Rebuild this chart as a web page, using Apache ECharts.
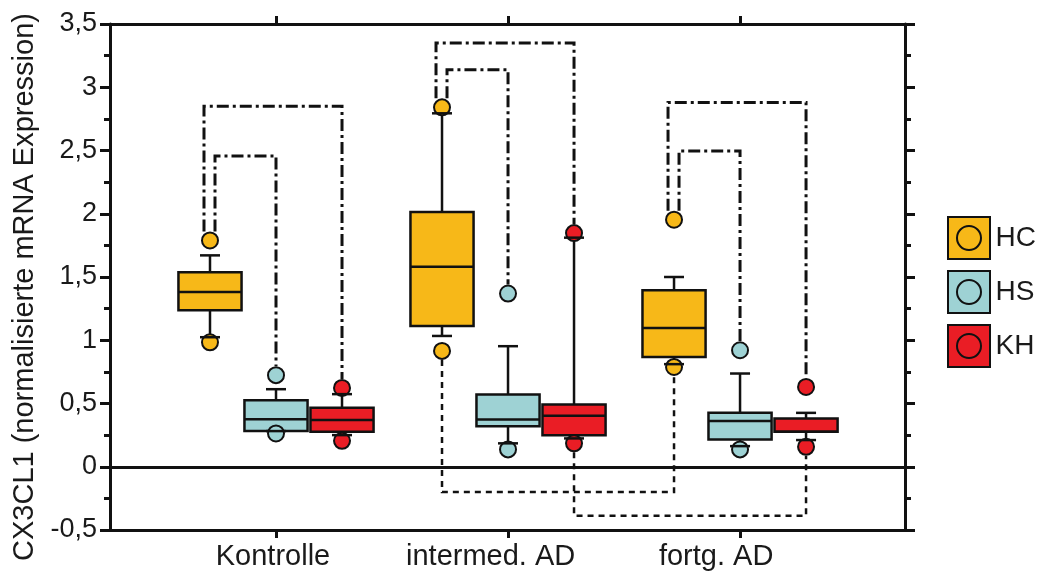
<!DOCTYPE html>
<html>
<head>
<meta charset="utf-8">
<script src="https://cdn.jsdelivr.net/npm/echarts@6/dist/echarts.min.js"></script>
<style>html,body{margin:0;padding:0;background:#fff}#c{width:1040px;height:579px}</style>
</head>
<body>
<div id="c"></div>
<script>
// ---- data ----
const categories = ['Kontrolle', 'intermed. AD', 'fortg. AD'];
const groupNames = ['HC', 'HS', 'KH'];
// per category: [lowCircle, lowCap, q1, median, q3, highCap, highCircle]
const hcValues = [
  [0.984, 1.024, 1.237, 1.381, 1.537, 1.671, 1.789],
  [0.916, 1.034, 1.113, 1.582, 2.013, 2.794, 2.841],
  [0.789, 0.811, 0.868, 1.097, 1.395, 1.500, 1.953]
];
const hsValues = [
  [0.263, 0.282, 0.282, 0.376, 0.526, 0.613, 0.724],
  [0.137, 0.185, 0.321, 0.374, 0.571, 0.953, 1.369],
  [0.137, 0.163, 0.216, 0.361, 0.426, 0.737, 0.921]
];
const khValues = [
  [0.205, 0.250, 0.276, 0.369, 0.466, 0.574, 0.623],
  [0.185, 0.224, 0.250, 0.403, 0.493, 1.811, 1.847],
  [0.158, 0.211, 0.276, 0.276, 0.382, 0.426, 0.631]
];
// significance brackets above: [category, fromGroup, toGroup, level]
const upperBrackets = [
  [0, 0, 2, 2.85], [0, 0, 1, 2.457],
  [1, 0, 2, 3.349], [1, 0, 1, 3.138],
  [2, 0, 2, 2.88], [2, 0, 1, 2.497]
];
// significance brackets below: [fromCategory, toCategory, group, level]
const lowerBrackets = [
  [1, 2, 0, -0.2],
  [1, 2, 2, -0.388]
];
const yMin = -0.5, yMax = 3.5, yStep = 0.5;

// ---- layout / style ----
const colors = ['#F7B818', '#9ED2D4', '#EA1D25'];
const groupOffset = [-0.2845, 0, 0.2845];
const boxWidth = 0.272;
const capHalf = 10;
const circleR = 8;
const allValues = [hcValues, hsValues, khValues];
const FONT = 'Liberation Sans, Arial, sans-serif';

function boxRender(params, api) {
  const g = params.seriesIndex;
  const x = api.value(0) + groupOffset[g];
  const v = [];
  for (let k = 1; k <= 7; k++) v.push(api.value(k));
  const P = val => api.coord([x, val]);
  const w = api.size([boxWidth, 0])[0];
  const cx = P(0)[0];
  const y = v.map(val => P(val)[1]);
  const line = {stroke: '#111', lineWidth: 2.5};
  const ch = [];
  ch.push({type: 'line', shape: {x1: cx, y1: y[4], x2: cx, y2: y[5]}, style: line});
  ch.push({type: 'line', shape: {x1: cx, y1: y[2], x2: cx, y2: y[1]}, style: line});
  ch.push({type: 'rect', shape: {x: cx - w / 2, y: y[4], width: w, height: y[2] - y[4]},
    style: {fill: colors[g], stroke: '#111', lineWidth: 2.5}});
  ch.push({type: 'line', shape: {x1: cx - w / 2, y1: y[3], x2: cx + w / 2, y2: y[3]}, style: line});
  ch.push({type: 'circle', shape: {cx: cx, cy: y[0], r: circleR}, style: {fill: colors[g], stroke: '#111', lineWidth: 2}});
  ch.push({type: 'circle', shape: {cx: cx, cy: y[6], r: circleR}, style: {fill: colors[g], stroke: '#111', lineWidth: 2}});
  ch.push({type: 'line', shape: {x1: cx - capHalf, y1: y[5], x2: cx + capHalf, y2: y[5]}, style: line});
  ch.push({type: 'line', shape: {x1: cx - capHalf, y1: y[1], x2: cx + capHalf, y2: y[1]}, style: line});
  return {type: 'group', children: ch};
}

function upperRender(params, api) {
  const cat = api.value(0), fg = api.value(1), tg = api.value(2), lvl = api.value(3);
  const fromTop = allValues[fg][cat][6], toTop = allValues[tg][cat][6];
  const pf = api.coord([cat + groupOffset[fg], fromTop]);
  const pt = api.coord([cat + groupOffset[tg], toTop]);
  const yl = api.coord([cat, lvl])[1];
  const xl = pf[0] + (tg === 2 ? -6 : 5);
  const xr = pt[0];
  return {type: 'polyline', shape: {points: [[xl, pf[1] - circleR - 1], [xl, yl], [xr, yl], [xr, pt[1] - circleR - 1]]},
    style: {fill: null, stroke: '#111', lineWidth: 3, lineDash: [12, 4, 3, 4]}};
}

function lowerRender(params, api) {
  const fc = api.value(0), tc = api.value(1), g = api.value(2), lvl = api.value(3);
  const pf = api.coord([fc + groupOffset[g], allValues[g][fc][0]]);
  const pt = api.coord([tc + groupOffset[g], allValues[g][tc][0]]);
  const yl = api.coord([fc, lvl])[1];
  return {type: 'polyline', shape: {points: [[pf[0], pf[1] + circleR + 1], [pf[0], yl], [pt[0], yl], [pt[0], pt[1] + circleR + 1]]},
    style: {fill: null, stroke: '#111', lineWidth: 2.5, lineDash: [6, 5]}};
}

const toData = arr => arr.map((row, i) => [i].concat(row));
const xMin = -0.7155, xMax = 2.711;

const yAxisBase = {
  type: 'value', min: yMin, max: yMax, interval: yStep,
  axisLine: {show: true, onZero: false, lineStyle: {color: '#111', width: 3}},
  axisTick: {show: true, inside: false, length: 10, lineStyle: {color: '#111', width: 3}},
  minorTick: {show: true, splitNumber: 2, length: 6, lineStyle: {color: '#111', width: 3}},
  splitLine: {show: false}
};

const option = {
  animation: false,
  backgroundColor: '#fff',
  grid: {left: 110, right: 135, top: 24, bottom: 49, containLabel: false, outerBoundsMode: 'none'},
  legend: {
    orient: 'vertical', left: 942, top: 211, itemWidth: 43, itemHeight: 42, itemGap: 10,
    data: groupNames,
    icon: 'path://M0,0H42V42H0Z M9,21a12,12 0 1,1 24,0a12,12 0 1,1 -24,0Z',
    itemStyle: {borderColor: '#111', borderWidth: 2},
    textStyle: {fontFamily: FONT, fontSize: 28, color: '#1a1a1a', padding: [0, 0, 0, 0]},
    selectedMode: false
  },
  xAxis: [
    {
      type: 'value', position: 'bottom', min: xMin, max: xMax,
      axisLine: {show: true, onZero: false, lineStyle: {color: '#111', width: 3}},
      axisTick: {show: true, customValues: [0, 1, 2], length: 8, lineStyle: {color: '#111', width: 3}},
      axisLabel: {
        customValues: [-0.013, 0.925, 1.897], margin: 12,
        fontFamily: FONT, fontSize: 29, color: '#1a1a1a',
        formatter: v => categories[Math.round(v)]
      },
      splitLine: {show: false}
    },
    {
      type: 'value', position: 'top', min: xMin, max: xMax,
      axisLine: {show: true, onZero: false, lineStyle: {color: '#111', width: 3}},
      axisTick: {show: true, customValues: [0, 1, 2], length: 8, lineStyle: {color: '#111', width: 3}},
      axisLabel: {show: false},
      splitLine: {show: false}
    }
  ],
  yAxis: [
    Object.assign({}, yAxisBase, {
      position: 'left',
      name: 'CX3CL1 (normalisierte mRNA Expression)',
      nameLocation: 'middle', nameGap: 70,
      nameTextStyle: {fontFamily: FONT, fontSize: 29, color: '#1a1a1a', padding: [0, 20, 0, 0]},
      axisLabel: {fontFamily: FONT, fontSize: 27, color: '#1a1a1a', margin: 13,
        formatter: v => String(v).replace('.', ',')}
    }),
    Object.assign({}, yAxisBase, {position: 'right', axisLabel: {show: false}})
  ],
  series: [
    {name: 'HC', type: 'custom', renderItem: boxRender, data: toData(hcValues), itemStyle: {color: colors[0]},
      encode: {x: 0, y: [1, 2, 3, 4, 5, 6, 7]}, clip: false, z: 3,
      markLine: {silent: true, symbol: ['none', 'none'], label: {show: false},
        lineStyle: {color: '#111', width: 3, type: 'solid'}, data: [{yAxis: 0}]}},
    {name: 'HS', type: 'custom', renderItem: boxRender, data: toData(hsValues), itemStyle: {color: colors[1]},
      encode: {x: 0, y: [1, 2, 3, 4, 5, 6, 7]}, clip: false, z: 3},
    {name: 'KH', type: 'custom', renderItem: boxRender, data: toData(khValues), itemStyle: {color: colors[2]},
      encode: {x: 0, y: [1, 2, 3, 4, 5, 6, 7]}, clip: false, z: 3},
    {name: 'upper', type: 'custom', renderItem: upperRender, data: upperBrackets, clip: false, z: 2,
      encode: {x: 0, y: 3}},
    {name: 'lower', type: 'custom', renderItem: lowerRender, data: lowerBrackets, clip: false, z: 2,
      encode: {x: 0, y: 3}}
  ]
};

const chart = echarts.init(document.getElementById('c'), null, {renderer: 'canvas'});
chart.setOption(option);
</script>
</body>
</html>
